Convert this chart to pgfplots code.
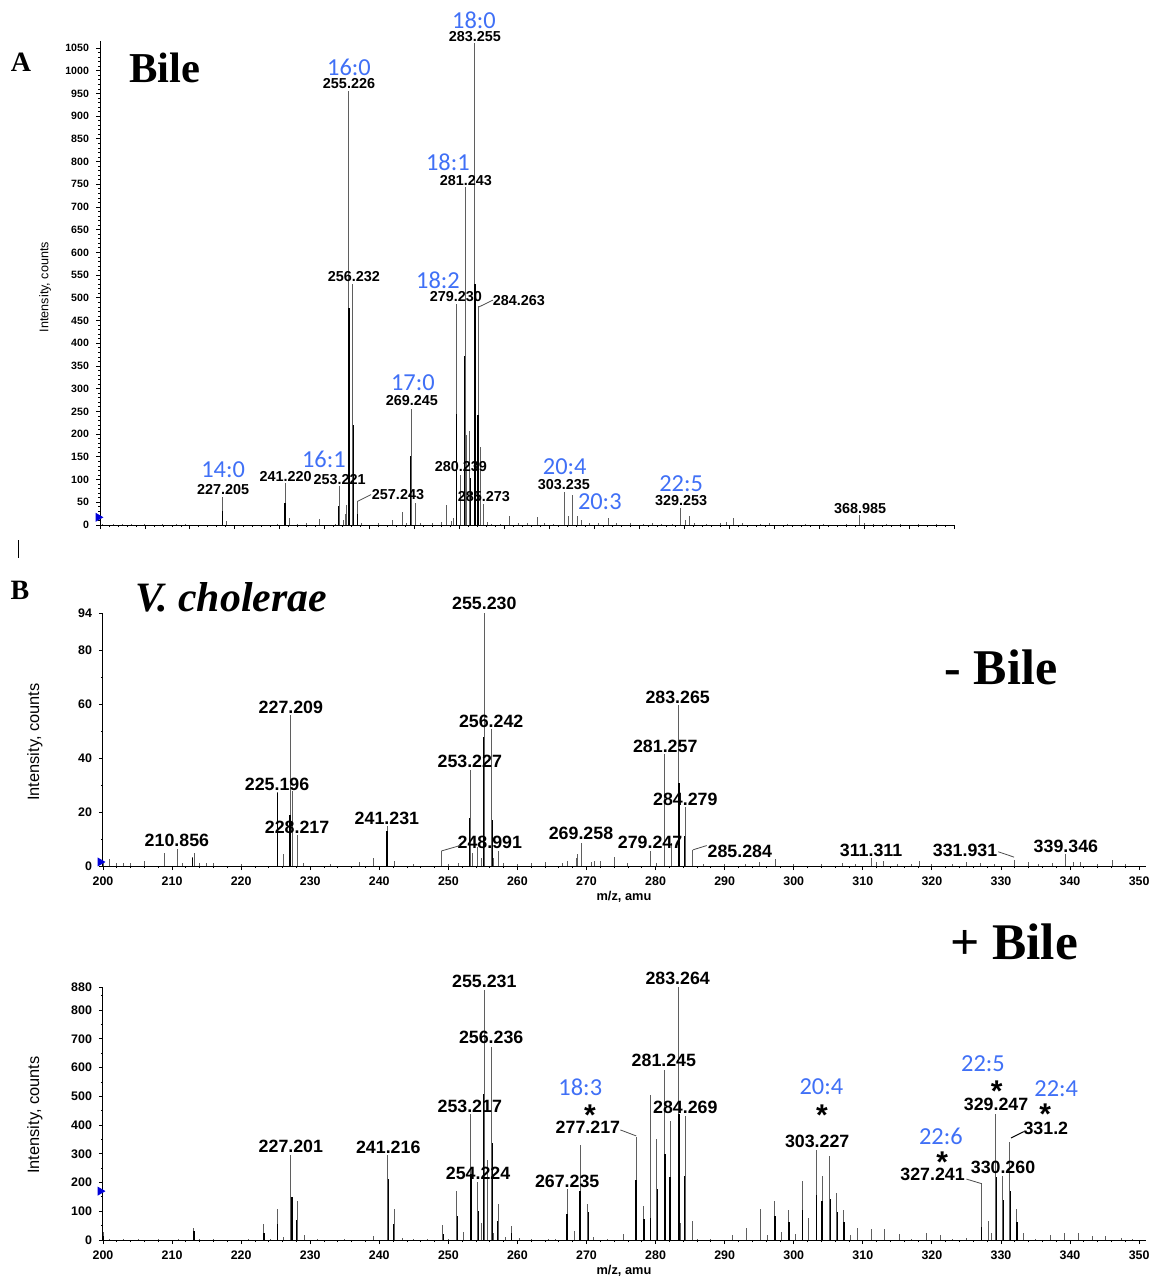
\documentclass[border=0pt]{standalone}
\usepackage{fontspec}
\setmainfont{Liberation Serif}
\setsansfont{Liberation Sans}
\newfontfamily\calibri{Carlito}
\usepackage{pgfplots}
\pgfplotsset{compat=1.18}
\definecolor{labblue}{RGB}{64,112,246}
\definecolor{stickgray}{RGB}{95,95,95}
\newcommand{\fs}[1]{\fontsize{#1}{#1}\selectfont}

\pgfplotsset{
  spec/.style={
    scale only axis, axis lines=left, axis line style={-, line width=0.5pt},
    tick align=outside, major tick length=2pt, minor tick length=1pt,
    every tick/.style={black, line width=0.4pt},
    clip=false, ymin=0,
    /pgf/number format/assume math mode=true,
    /pgf/number format/1000 sep={},
  },
  gs/.style={ycomb, draw=stickgray, line width=0.5pt, mark=none},
  bs/.style={ycomb, draw=black, line width=0.7pt, mark=none},
  tri/.style={only marks, mark=triangle*, mark size=2.2pt, color=blue!85!black, mark options={rotate=-90}},
}
% peak labels
\newcommand{\plA}[3]{\node[font=\sffamily\bfseries\fs{7.2pt}, inner sep=0pt] at (axis cs:#1,#2) {#3};}
\newcommand{\plB}[3]{\node[font=\sffamily\bfseries\fs{8.9pt}, inner sep=0pt] at (axis cs:#1,#2) {#3};}
\newcommand{\bl}[3]{\node[font=\calibri\fs{12.2pt}, text=labblue, inner sep=0pt] at (axis cs:#1,#2) {#3};}
\newcommand{\st}[2]{\node[font=\sffamily\bfseries\fs{15pt}, inner sep=0pt] at (axis cs:#1,#2) {\raisebox{-0.41em}[0.31em][0pt]{*}};}

\begin{document}
\begin{tikzpicture}
\begin{scope}[x=0.5pt,y=-0.5pt]
\useasboundingbox (0,0) rectangle (1154,1279);
\end{scope}

% ---------------- Panel A ----------------
\begin{axis}[spec, at={(50pt,-262.5pt)}, anchor=south west,
  width=427pt, height=241.9pt,
  xmin=200, xmax=390, ymax=1065,
  ytick={0,50,...,1050}, minor y tick num=4,
  xtick={200,210,...,390}, xticklabels={}, minor x tick num=4,
  y tick label style={font=\sffamily\bfseries\fs{5.3pt}},
]
\addplot[gs] coordinates {
(200.5,3) (203,2) (205,3) (207,2) (210,2) (214,2) (217,3) (219,2)
(227.205,62) (228.2,8) (239.5,3) (241.220,93) (242.2,15) (244,3) (246,4)
(248.9,13) (252.3,3) (253.221,86) (254.2,12) (254.6,25) (254.9,45)
(255.226,955) (256.232,530) (257.243,52) (258.2,4)
(262,4) (265.1,10) (267.2,28) (268.3,5)
(269.245,256) (270.2,49) (271.2,5) (274,4) (276,6) (277.2,43) (278.2,8) (278.7,15)
(279.230,487) (280.239,110) (281.243,745) (281.55,199) (282.3,208) (283.255,1062)
(284.263,482) (284.55,172) (285.273,47) (286.3,6) (287,3) (289,3)
(291.2,20) (293,5) (295,4) (297.3,17) (299,5) (301,3)
(303.235,72) (304.2,20) (305.2,66) (306.3,20) (307.2,10) (309,4) (311,5) (313.1,15) (315,5)
(318,4) (321,3) (323,4) (325,3) (327.4,3)
(329.253,37) (330.2,10) (331.2,20) (332.3,5)
(335,3) (338,4) (339.3,6) (341.0,15) (343,5) (347,3) (349,4) (353,3) (357,3) (361,3) (366,3)
(368.985,22) (370,4) (372,3) (375,3) (378,3) (382,3) (386,3)
};
\addplot[bs] coordinates {
(227.25,30) (241.15,49) (253.05,42) (255.4,478) (256.45,220) (257.3,24) (269.1,153)
(279.35,244) (281.1,373) (282.4,104) (283.42,530) (284.12,242)
};
\addplot[tri] coordinates {(199.6,17)};
\node[rotate=90, font=\sffamily\fs{6.3pt}, inner sep=0pt] at (axis description cs:-0.0644,0.492) {Intensity, counts};
% labels
\bl{283.2}{1111}{18:0} \plA{283.4}{1076}{283.255}
\bl{255.4}{1008}{16:0} \plA{255.4}{971}{255.226}
\bl{277.4}{799}{18:1} \plA{281.4}{759}{281.243}
\plA{256.5}{546}{256.232}
\bl{275.2}{539}{18:2} \plA{279.2}{502}{279.230}
\plA{293.2}{495}{284.263}
\draw[black!70, line width=0.4pt] (axis cs:284.3,480) -- (axis cs:287.4,495);
\bl{269.6}{313}{17:0} \plA{269.4}{273}{269.245}
\bl{227.4}{121}{14:0} \plA{227.4}{77}{227.205}
\plA{241.3}{106}{241.220}
\bl{249.8}{145}{16:1} \plA{253.3}{101}{253.221}
\plA{266.3}{68}{257.243}
\draw[black!70, line width=0.4pt] (axis cs:257.3,52) -- (axis cs:260.3,67);
\plA{280.3}{128}{280.239}
\plA{285.4}{62}{285.273}
\bl{303.4}{128}{20:4} \plA{303.2}{88}{303.235}
\bl{311.2}{51}{20:3}
\bl{329.3}{90}{22:5} \plA{329.3}{53}{329.253}
\plA{369.1}{37}{368.985}
\end{axis}

% ---------------- Panel B top (- Bile) ----------------
\begin{axis}[spec, at={(51.5pt,-433pt)}, anchor=south west,
  width=521.5pt, height=126.5pt,
  xmin=200, xmax=351, ymax=94,
  ytick={0,20,40,60,80,94}, minor ytick={10,30,50,70},
  xtick={200,210,...,350}, minor x tick num=4,
  tick label style={font=\sffamily\bfseries\fs{6.2pt}},
]
\addplot[gs] coordinates {
(200.1,2) (201,2.5) (202,1) (203,1) (204,1.2) (206,2) (208.9,5) (210.856,6.3) (211.5,1)
(212.9,3.5) (213.2,5) (214,1) (215,1) (216,1) (220,0.7)
(225.196,27.4) (226.2,4.3) (227.209,56) (227.4,28) (228.217,11.6) (229,1) (233,0.8)
(237.2,1.5) (239.2,3) (241.231,15) (242.2,2) (245,0.8)
(248.991,5.6) (250,0.8) (251.5,1) (253.227,35.7) (253.5,5) (254.2,7) (254.8,3)
(255.230,94) (256.242,51) (256.55,3) (257.2,5.6) (258,1) (260,0.8) (262,1) (264,1.5) (266.5,1)
(267.3,2) (268.5,3) (268.7,4.3) (269.258,8.7) (270.7,1.5) (271.2,2) (272,2) (274,3.2) (276,1)
(279.247,5.6) (280.2,1) (281.257,41.7) (282.3,8.7) (283.265,60) (284.279,21.9) (285.284,6)
(287,0.6) (290,0.8) (293,0.8) (295,1.5) (297.3,2.5) (300,0.6) (304,0.6) (307,1) (309,0.6)
(311.311,2.9) (312,1.5) (313,2) (315,0.8) (317,0.8) (318.2,2) (320,0.8) (323,0.8) (325,1.5)
(327,1) (329,0.8) (332.0,2.4) (334,1.5) (335.5,0.8) (337.4,1) (339.346,4.6) (340.5,1.5)
(341.5,1.5) (344,0.6) (346.2,2.2) (348,0.6)
};
\addplot[bs] coordinates {
(213.0,3) (225.3,27) (227.05,19) (241.1,13) (253.1,18) (255.1,48) (256.35,17) (283.4,31) (284.15,11)
};
\addplot[tri] coordinates {(199.6,1.5)};
\node[rotate=90, font=\sffamily\fs{8.2pt}, inner sep=0pt] at (axis description cs:-0.0652,0.49) {Intensity, counts};
\node[font=\sffamily\bfseries\fs{6.4pt}, inner sep=0pt] at (axis description cs:0.4995,0) [yshift=-15.5pt] {m/z, amu};
\plB{255.2}{97.4}{255.230}
\plB{227.2}{59.1}{227.209}
\plB{256.2}{53.9}{256.242}
\plB{283.2}{62.8}{283.265}
\plB{281.4}{44.6}{281.257}
\plB{253.1}{38.7}{253.227}
\plB{225.2}{30.5}{225.196}
\plB{284.3}{24.9}{284.279}
\plB{241.1}{17.8}{241.231}
\plB{228.1}{14.5}{228.217}
\plB{210.7}{9.7}{210.856}
\plB{256.0}{8.9}{248.991}
\draw[black!70, line width=0.4pt] (axis cs:249.0,5.6) -- (axis cs:251.7,7.6);
\plB{269.2}{12.3}{269.258}
\plB{279.2}{8.6}{279.247}
\plB{292.2}{5.6}{285.284}
\draw[black!70, line width=0.4pt] (axis cs:285.4,6.0) -- (axis cs:287.4,7.6);
\plB{311.2}{5.9}{311.311}
\plB{324.8}{5.9}{331.931}
\draw[black!70, line width=0.4pt] (axis cs:329.6,5.3) -- (axis cs:331.9,3.3);
\plB{339.4}{7.4}{339.346}
\end{axis}

% ---------------- Panel B bottom (+ Bile) ----------------
\begin{axis}[spec, at={(51.5pt,-620pt)}, anchor=south west,
  width=521.5pt, height=126.5pt,
  xmin=200, xmax=351, ymax=880,
  ytick={0,100,...,800,880}, minor ytick={50,150,...,850},
  xtick={200,210,...,350}, minor x tick num=4,
  tick label style={font=\sffamily\bfseries\fs{6.2pt}},
]
\addplot[gs] coordinates {
(200.1,28) (201,5) (203,3) (205.2,5) (208,3) (211,5) (213.1,43) (213.3,20) (214,5) (216,3) (221,3)
(223.2,57) (224.2,5) (225.2,108) (226.2,12) (227.201,297) (228.2,137) (229.2,16) (231,3) (235,3)
(239.2,14) (241.216,294) (242.2,108) (243.3,6) (245,3) (247,3)
(249.2,51) (250,5) (251.2,171) (252.2,28) (253.217,439) (254.224,201) (254.8,60) (255.231,871)
(255.6,280) (256.236,673) (256.6,25) (257.2,125) (258.2,10) (259.2,50) (260.3,8) (262,5) (264.5,5) (265.5,5)
(267.235,177) (268.3,30) (269.2,330) (270.2,125) (271,10) (273,5) (275.3,20) (277.217,360)
(278.2,117) (279.2,503) (280.2,351) (281.245,593) (282.2,413) (283.264,880) (283.6,60) (284.269,430)
(285.3,67) (286,5) (288,4)
(291.1,17) (293.2,43) (295.2,108) (296.2,17) (297.2,137) (298.2,27) (299.2,103) (300.2,20)
(301.2,204) (302.2,76) (303.227,313) (304.2,222) (305.2,291) (306.2,164) (307.2,103) (308.2,16)
(309.2,43) (311.2,40) (313.2,38) (315.3,20) (317,5) (319.2,25) (321.2,18) (323,5) (325,8)
(327.241,199) (328.2,65) (328.7,25) (329.247,438) (330.260,223) (331.2,342) (332.2,108) (333.2,25)
(335,5) (337.2,18) (339.2,25) (341.2,25) (343.2,15) (345.2,14) (347.5,8) (349,4)
};
\addplot[bs] coordinates {
(200.0,15) (213.2,30) (223.3,25) (225.3,57) (227.35,148) (228.05,70) (241.3,212) (242.05,57)
(249.3,22) (251.3,85) (253.3,230) (254.35,100) (255.1,508) (256.35,336) (257.1,65) (259.1,25)
(267.15,89) (269.05,169) (270.3,97) (277.15,209) (278.3,74) (279.3,78) (280.3,178) (281.35,298)
(282.1,218) (283.4,440) (284.15,224) (297.3,85) (299.3,62) (301.3,103) (303.3,158) (304.1,137)
(305.3,143) (306.3,99) (307.3,62) (327.15,47) (329.35,218) (330.35,140) (331.35,169) (332.3,62)
};
\addplot[tri] coordinates {(199.6,170)};
\node[rotate=90, font=\sffamily\fs{8.2pt}, inner sep=0pt] at (axis description cs:-0.0652,0.494) {Intensity, counts};
\node[font=\sffamily\bfseries\fs{6.4pt}, inner sep=0pt] at (axis description cs:0.4995,0) [yshift=-15.5pt] {m/z, amu};
\plB{255.2}{901}{255.231}
\plB{283.2}{911}{283.264}
\plB{256.2}{706}{256.236}
\plB{281.2}{626}{281.245}
\plB{253.1}{466}{253.217}
\plB{284.3}{463}{284.269}
\plB{227.2}{327}{227.201}
\plB{241.3}{323}{241.216}
\plB{254.3}{233}{254.224}
\plB{267.2}{205}{267.235}
\bl{269.1}{532}{18:3} \st{270.5}{458} \plB{270.2}{391}{277.217}
\draw[black!70, line width=0.4pt] (axis cs:274.9,383) -- (axis cs:277.2,362);
\bl{304.0}{532}{20:4} \st{304.1}{458} \plB{303.4}{342}{303.227}
\bl{327.4}{612}{22:5} \st{329.4}{541} \plB{329.3}{471}{329.247}
\bl{338.0}{528}{22:4} \st{336.4}{460} \plB{336.5}{388}{331.2}
\draw[black, line width=0.5pt] (axis cs:331.45,355) -- (axis cs:333.3,377);
\bl{321.3}{362}{22:6} \st{321.5}{293} \plB{320.1}{228}{327.241}
\draw[black!70, line width=0.4pt] (axis cs:325.0,212) -- (axis cs:327.2,196);
\plB{330.3}{254}{330.260}
\end{axis}

% ---------------- panel titles ----------------
\begin{scope}[x=0.5pt,y=-0.5pt]
\node[font=\bfseries\fs{14pt}, inner sep=0pt] at (21,62) {A};
\node[font=\bfseries\fs{14pt}, inner sep=0pt] at (20,590) {B};
\node[font=\bfseries\fs{21.3pt}, inner sep=0pt] at (165,68) {Bile};
\node[font=\bfseries\itshape\fs{20.9pt}, inner sep=0pt] at (231,597) {V. cholerae};
\node[font=\bfseries\fs{25pt}, inner sep=0pt] at (1001,667) {- Bile};
\node[font=\bfseries\fs{25.7pt}, inner sep=0pt] at (1014,942) {+ Bile};
\draw[line width=0.4pt] (18,540) -- (18,558);
\end{scope}
\end{tikzpicture}
\end{document}
